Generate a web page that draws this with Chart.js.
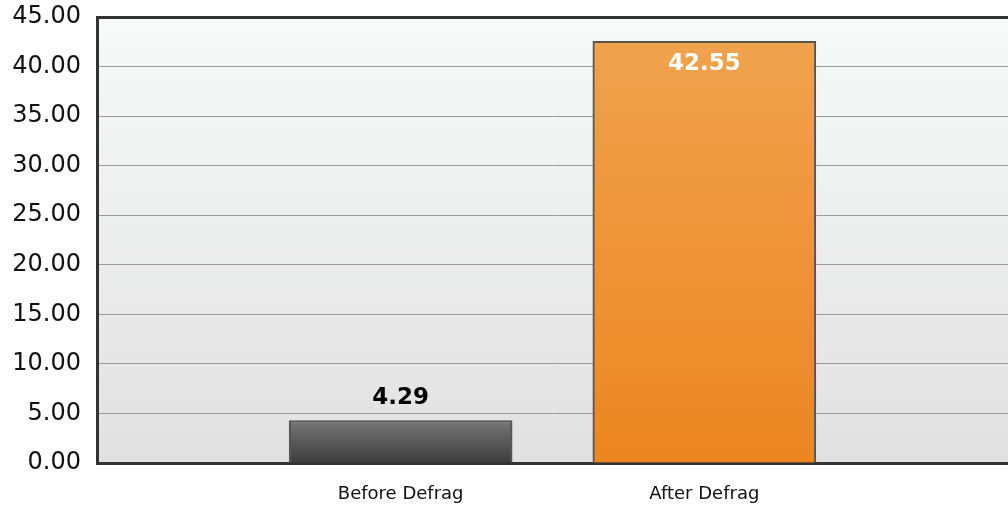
<!DOCTYPE html>
<html>
<head>
<meta charset="utf-8">
<script src="https://cdn.jsdelivr.net/npm/chart.js@4"></script>
<style>
  html, body { margin: 0; padding: 0; background: #fff; overflow: hidden; }
  #wrap { position: relative; width: 1008px; height: 507px; }
  #defragChart { display: block; }
</style>
</head>
<body>
<div id="wrap"><canvas id="defragChart"></canvas></div>
<script>
// Data
const categories = ["", "Before Defrag", "After Defrag", ""];
const timings = [null, 4.29, 42.55, null];
const yTicks = [0, 5, 10, 15, 20, 25, 30, 35, 40, 45];

// Gradient fill per bar, built from the bar's own pixel span
function barFill(ctx) {
  const chart = ctx.chart;
  const area = chart.chartArea;
  const v = ctx.raw;
  if (!area || v == null) return "rgba(0,0,0,0)";
  const ys = chart.scales.y;
  const top = ys.getPixelForValue(v);
  const bot = ys.getPixelForValue(0);
  if (!isFinite(top) || !isFinite(bot)) return "#888";
  const g = chart.ctx.createLinearGradient(0, top, 0, bot);
  if (ctx.dataIndex === 1) {
    g.addColorStop(0, "#9a9a9a");
    g.addColorStop(0.08, "#727272");
    g.addColorStop(1, "#3c3c3c");
  } else {
    g.addColorStop(0, "#f6c04e");
    g.addColorStop(0.006, "#f0a24e");
    g.addColorStop(1, "#ec8620");
  }
  return g;
}

// Soft grey background in the plot area
const plotBackground = {
  id: "plotBackground",
  beforeDraw(chart) {
    const { ctx, chartArea: a } = chart;
    const g = ctx.createLinearGradient(0, a.top, 0, a.bottom);
    g.addColorStop(0, "#f8f9f9");
    g.addColorStop(1, "#e1e1e1");
    ctx.save();
    ctx.fillStyle = g;
    ctx.fillRect(a.left, a.top, a.right - a.left, a.bottom - a.top);
    ctx.restore();
  }
};

// Value labels: above the short bar, inside the tall one
const valueLabels = {
  id: "valueLabels",
  afterDatasetsDraw(chart) {
    const ctx = chart.ctx;
    const meta = chart.getDatasetMeta(0);
    ctx.save();
    ctx.font = "bold 23px 'DejaVu Sans'";
    ctx.textAlign = "center";
    ctx.textBaseline = "middle";
    meta.data.forEach((bar, i) => {
      const v = timings[i];
      if (v == null) return;
      if (i === 1) {
        ctx.fillStyle = "#000";
        ctx.fillText(v.toFixed(2), bar.x, bar.y - 22);
      } else {
        ctx.fillStyle = "#fff";
        ctx.fillText(v.toFixed(2), bar.x, bar.y + 23);
      }
    });
    ctx.restore();
  }
};

new Chart(document.getElementById("defragChart"), {
  type: "bar",
  data: {
    labels: categories,
    datasets: [{
      data: timings,
      backgroundColor: barFill,
      borderColor: "#555",
      borderWidth: 2,
      barThickness: 223
    }]
  },
  plugins: [plotBackground, valueLabels],
  options: {
    responsive: true,
    maintainAspectRatio: false,
    animation: false,
    layout: { padding: { left: 12, right: 0, top: 17, bottom: 3 } },
    plugins: {
      legend: { display: false },
      tooltip: { enabled: false }
    },
    scales: {
      x: {
        offset: false,
        afterFit(scale) {
          // plot runs to the right edge of the picture
          scale.paddingLeft = 0;
          scale.paddingRight = 0;
          scale.height = 41;
        },
        grid: { display: false, drawTicks: false },
        border: { display: true, color: "#333", width: 3 },
        ticks: {
          color: "#111",
          font: { family: "'DejaVu Sans'", size: 18 },
          padding: 21,
          maxRotation: 0,
          autoSkip: false
        }
      },
      y: {
        min: 0,
        max: 45,
        afterBuildTicks(scale) {
          scale.ticks = yTicks.map(v => ({ value: v }));
        },
        afterFit(scale) {
          scale.width = 85;
          scale.paddingTop = 0;
          scale.paddingBottom = 0;
        },
        grid: {
          drawTicks: false,
          color: c => (c.tick && c.tick.value === 45 ? "#333" : "#9a9a9a"),
          lineWidth: c => (c.tick && c.tick.value === 45 ? 3 : 1)
        },
        border: { display: true, color: "#333", width: 3 },
        ticks: {
          color: "#111",
          font: { family: "'DejaVu Sans'", size: 24 },
          padding: 16,
          callback: v => Number(v).toFixed(2)
        }
      }
    }
  }
});
</script>
</body>
</html>
